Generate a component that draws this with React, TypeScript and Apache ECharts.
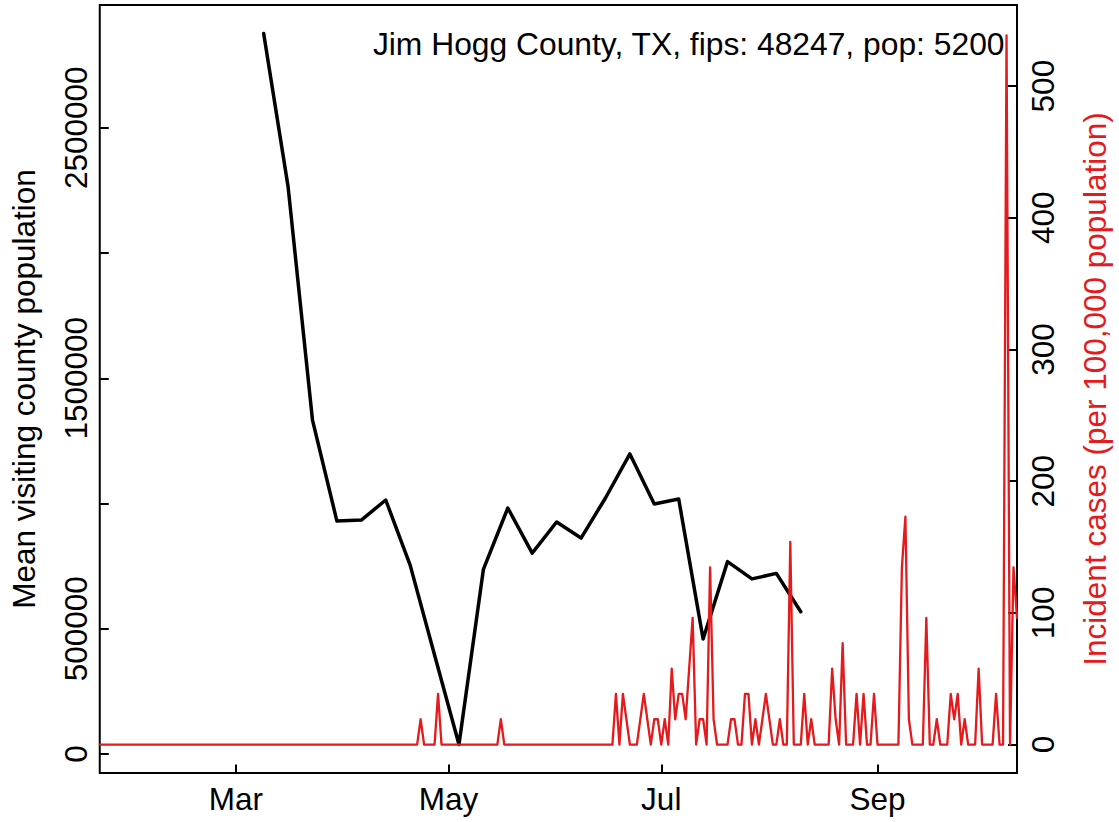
import React, { useEffect, useRef } from 'react';
import * as echarts from 'echarts';

const FONT = '"Liberation Sans", Arial, Helvetica, sans-serif';

const TITLE = 'Jim Hogg County, TX, fips: 48247, pop: 5200';
const LEFT_AXIS_NAME = 'Mean visiting county population';
const RIGHT_AXIS_NAME = 'Incident cases (per 100,000 population)';
const POPULATION = 5200;

const X_MIN_DATE = '2020-01-22';
const X_MAX_DATE = '2020-10-11';
const MONTH_TICK_DATES = ['2020-03-01', '2020-05-01', '2020-07-01', '2020-09-01'];
const MONTH_TICK_LABELS = ['Mar', 'May', 'Jul', 'Sep'];

const LEFT_MIN = -75800;
const LEFT_MAX = 2990000;
const LEFT_TICKS = [0, 500000, 1000000, 1500000, 2000000, 2500000];
const LEFT_TICK_LABELS = [0, 500000, 1500000, 2500000];

const RIGHT_MIN = -21.6;
const RIGHT_MAX = 561.6;
const RIGHT_TICKS = [0, 100, 200, 300, 400, 500];

// weekly mean visiting county population
const VISIT_DATES = [
  '2020-03-09', '2020-03-16', '2020-03-23', '2020-03-30', '2020-04-06', '2020-04-13',
  '2020-04-20', '2020-04-27', '2020-05-04', '2020-05-11', '2020-05-18', '2020-05-25',
  '2020-06-01', '2020-06-08', '2020-06-15', '2020-06-22', '2020-06-29', '2020-07-06',
  '2020-07-13', '2020-07-20', '2020-07-27', '2020-08-03', '2020-08-10',
];
const VISIT_VALUES = [
  2876000, 2265000, 1333000, 930000, 934000, 1014000,
  754000, 395000, 37700, 737000, 982000, 802000,
  926000, 862000, 1022000, 1198000, 998000, 1018000,
  459000, 768000, 699000, 721000, 568000,
];

// daily incident case counts, one per day starting at CASES_START
const CASES_START = '2020-01-22';
const DAILY_CASES = [
  0, 0, 0, 0, 0, 0, 0, 0, 0, 0, 0, 0, 0, 0, 0, 0, 0, 0, 0, 0,
  0, 0, 0, 0, 0, 0, 0, 0, 0, 0, 0, 0, 0, 0, 0, 0, 0, 0, 0, 0,
  0, 0, 0, 0, 0, 0, 0, 0, 0, 0, 0, 0, 0, 0, 0, 0, 0, 0, 0, 0,
  0, 0, 0, 0, 0, 0, 0, 0, 0, 0, 0, 0, 0, 0, 0, 0, 0, 0, 0, 0,
  0, 0, 0, 0, 0, 0, 0, 0, 0, 0, 0, 0,
  1, 0, 0, 0, 0, 2,
  0, 0, 0, 0, 0, 0, 0, 0, 0, 0, 0, 0, 0, 0, 0, 0, 0,
  1,
  0, 0, 0, 0, 0, 0, 0, 0, 0, 0, 0, 0, 0, 0, 0, 0,
  0, 0, 0, 0, 0, 0, 0, 0, 0, 0, 0, 0, 0, 0, 0, 0,
  2, 0, 2, 1, 0, 0, 0, 1, 2, 1, 0, 1, 1, 0, 1, 0, 3, 1, 2, 2, 1, 3, 5, 0, 1, 1, 0, 7, 1,
  0, 0, 0, 0, 1, 1, 0, 0, 2, 2, 0, 1, 0, 1, 2, 1, 0, 0, 1, 0, 0, 8, 0, 0, 0, 2, 0, 1, 0,
  0, 0, 0, 0, 3, 1, 0, 4, 0, 0, 0, 2, 0, 2, 0, 0, 2, 0, 0, 0, 0, 0, 0, 0, 7, 9, 1, 0, 0,
  0, 0, 5, 0, 0, 1, 0, 0, 0, 2, 1, 2, 0, 1, 0, 0, 0, 3, 0, 0, 0, 0, 2, 0, 0, 28, 0, 7, 5,
];

const DAY_MS = 86400000;

export default function App() {
  const ref = useRef<HTMLDivElement>(null);

  useEffect(() => {
    if (!ref.current) return;
    const chart = echarts.init(ref.current, null, { renderer: 'svg' });

    const monthTicks = MONTH_TICK_DATES.map((d) => Date.parse(d));
    const visitData = VISIT_DATES.map((d, i) => [Date.parse(d), VISIT_VALUES[i]]);
    const start = Date.parse(CASES_START);
    const caseData = DAILY_CASES.map((c, i) => [start + i * DAY_MS, (c / POPULATION) * 100000]);

    const labelStyle = { fontSize: 31.5, color: '#000', fontFamily: FONT };

    chart.setOption({
      animation: false,
      backgroundColor: '#ffffff',
      textStyle: { fontFamily: FONT },
      grid: {
        left: 99,
        right: 98.3,
        top: 5,
        bottom: 49,
        show: true,
        borderColor: '#000',
        borderWidth: 2,
        backgroundColor: 'transparent',
      },
      xAxis: {
        type: 'value',
        min: Date.parse(X_MIN_DATE),
        max: Date.parse(X_MAX_DATE),
        splitLine: { show: false },
        axisLine: { show: false, onZero: false },
        axisTick: {
          show: true,
          inside: true,
          length: 8.5,
          lineStyle: { color: '#000', width: 2 },
          customValues: monthTicks,
        },
        axisLabel: {
          ...labelStyle,
          margin: 9.5,
          customValues: monthTicks,
          formatter: (v: number) => {
            const i = monthTicks.indexOf(v);
            return i >= 0 ? MONTH_TICK_LABELS[i] : '';
          },
        },
      },
      yAxis: [
        {
          type: 'value',
          position: 'left',
          min: LEFT_MIN,
          max: LEFT_MAX,
          splitLine: { show: false },
          axisLine: { show: false, onZero: false },
          axisTick: {
            show: true,
            inside: true,
            length: 9,
            lineStyle: { color: '#000', width: 2 },
            customValues: LEFT_TICKS,
          },
          axisLabel: {
            ...labelStyle,
            rotate: 90,
            margin: 8.25,
            customValues: LEFT_TICK_LABELS,
            formatter: (v: number) => String(v),
          },
          name: LEFT_AXIS_NAME,
          nameLocation: 'middle',
          nameRotate: 90,
          nameGap: 59.75,
          nameTextStyle: { ...labelStyle },
        },
        {
          type: 'value',
          position: 'right',
          min: RIGHT_MIN,
          max: RIGHT_MAX,
          splitLine: { show: false },
          axisLine: { show: false, onZero: false },
          axisTick: {
            show: true,
            inside: true,
            length: 9,
            lineStyle: { color: '#000', width: 2 },
            customValues: RIGHT_TICKS,
          },
          axisLabel: {
            ...labelStyle,
            rotate: 90,
            margin: 9.5,
            customValues: RIGHT_TICKS,
            formatter: (v: number) => String(v),
          },
          name: RIGHT_AXIS_NAME,
          nameLocation: 'middle',
          nameRotate: 90,
          nameGap: 62,
          nameTextStyle: { ...labelStyle, color: '#E41A1C' },
        },
      ],
      series: [
        {
          type: 'line',
          name: LEFT_AXIS_NAME,
          yAxisIndex: 0,
          data: visitData,
          symbol: 'none',
          showSymbol: false,
          lineStyle: { color: '#000', width: 3.5, join: 'round', cap: 'round' },
          itemStyle: { color: '#000' },
          clip: true,
        },
        {
          type: 'line',
          name: RIGHT_AXIS_NAME,
          yAxisIndex: 1,
          data: caseData,
          symbol: 'none',
          showSymbol: false,
          lineStyle: { color: '#E41A1C', width: 2.3, join: 'round', cap: 'round' },
          itemStyle: { color: '#E41A1C' },
          clip: true,
        },
      ],
      graphic: [
        {
          type: 'text',
          x: 1004.5,
          y: 44,
          style: {
            text: TITLE,
            fontSize: 31.8,
            fontFamily: FONT,
            fill: '#000',
            align: 'right',
            verticalAlign: 'middle',
          },
        },
      ],
    });

    return () => {
      chart.dispose();
    };
  }, []);

  return (
    <div
      ref={ref}
      style={{ position: 'fixed', left: 0, top: 0, width: 1119, height: 822, background: '#fff' }}
    />
  );
}
